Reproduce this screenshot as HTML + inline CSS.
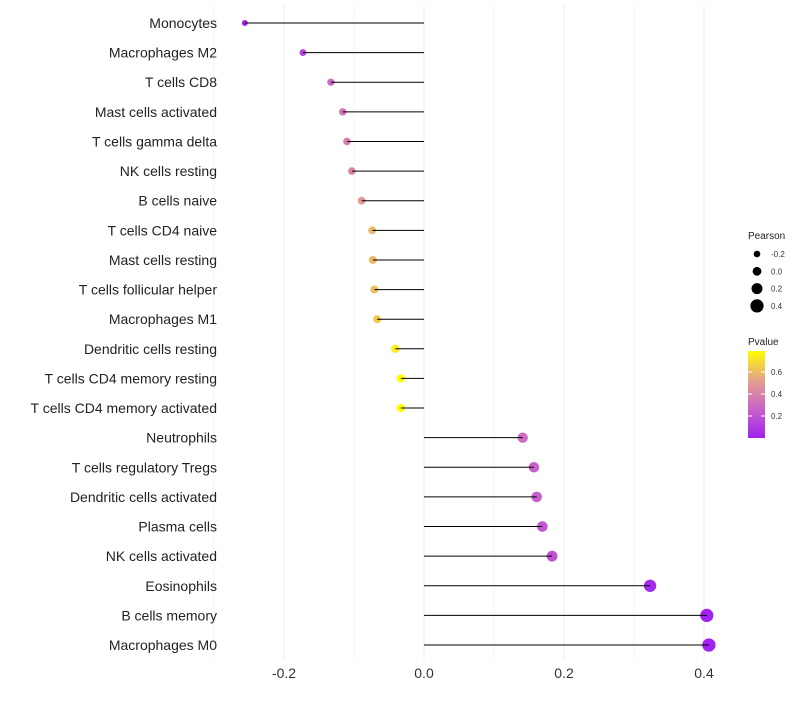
<!DOCTYPE html>
<html><head><meta charset="utf-8"><style>
body{margin:0;background:#fff;font-family:"Liberation Sans",sans-serif}
</style></head><body>
<svg id="c" width="800" height="700" xmlns="http://www.w3.org/2000/svg"></svg>
<script>
const categories=["Monocytes","Macrophages M2","T cells CD8","Mast cells activated","T cells gamma delta","NK cells resting","B cells naive","T cells CD4 naive","Mast cells resting","T cells follicular helper","Macrophages M1","Dendritic cells resting","T cells CD4 memory resting","T cells CD4 memory activated","Neutrophils","T cells regulatory  Tregs ","Dendritic cells activated","Plasma cells","NK cells activated","Eosinophils","B cells memory","Macrophages M0"];
const pearson=[-0.256,-0.173,-0.133,-0.116,-0.110,-0.103,-0.089,-0.074,-0.073,-0.071,-0.067,-0.041,-0.033,-0.033,0.141,0.157,0.161,0.169,0.183,0.323,0.404,0.407];
const pvalue=[0.02,0.15,0.3,0.35,0.38,0.42,0.5,0.6,0.6,0.62,0.65,0.75,0.8,0.8,0.3,0.26,0.25,0.22,0.2,0.04,0.01,0.01];
const xTicks=[-0.2,0,0.2,0.4];
const xTickLabels=["-0.2","0.0","0.2","0.4"];
const ns="http://www.w3.org/2000/svg",svg=document.getElementById('c');
const X=v=>424+v*700, Y=i=>23+i*(622/21);
const R=v=>3.3+(v+0.2)*5.5;
function col(p){const t=Math.max(0,Math.min(1,p/0.8));
 const stops=[[160,32,240],[200,100,200],[230,160,140],[255,255,0]];
 const s=t*3,i=Math.min(2,Math.floor(s)),f=s-i;
 const c=stops[i].map((a,k)=>Math.round(a+(stops[i+1][k]-a)*f));return `rgb(${c})`;}
function el(t,a,txt){const e=document.createElementNS(ns,t);for(const k in a)e.setAttribute(k,a[k]);if(txt!=null)e.textContent=txt;svg.appendChild(e);return e;}
[-0.3,-0.1,0.1,0.3].forEach(v=>{const g=el('line',{x1:X(v),x2:X(v),y1:5,y2:660,stroke:'#f2f2f2','stroke-width':0.8});

});
xTicks.forEach((v,i)=>{const g=el('line',{x1:X(v),x2:X(v),y1:5,y2:660,stroke:'#ededed','stroke-width':1});


const t=el('text',{x:X(v),y:678,'text-anchor':'middle','font-size':14,fill:'#333'},xTickLabels[i]);

});
categories.forEach((c,i)=>{const y=Y(i);
const t=el('text',{x:217,y:y+5,'text-anchor':'end','font-size':14,fill:'#222'},c);


const p=el('circle',{cx:X(pearson[i]),cy:y,r:R(pearson[i]),fill:col(pvalue[i])});


const l=el('line',{x1:X(0),x2:X(pearson[i]),y1:y,y2:y,stroke:'#000','stroke-width':1});

});
const lt=el('text',{x:748,y:239,'font-size':10,fill:'#222'},'Pearson');


[-0.2,0,0.2,0.4].forEach((v,i)=>{const y=254+i*17.3;
const c=el('circle',{cx:757,cy:y,r:R(v),fill:'#000'});


const t=el('text',{x:771,y:y+3,'font-size':8,fill:'#333'},xTickLabels[i]);

});
const pt=el('text',{x:748,y:345,'font-size':10,fill:'#222'},'Pvalue');


const defs=el('defs',{});const lg=document.createElementNS(ns,'linearGradient');lg.setAttribute('id','g');lg.setAttribute('x1',0);lg.setAttribute('y1',1);lg.setAttribute('x2',0);lg.setAttribute('y2',0);defs.appendChild(lg);
[0,0.33,0.66,1].forEach(o=>{const s=document.createElementNS(ns,'stop');s.setAttribute('offset',o);s.setAttribute('stop-color',col(o*0.8));lg.appendChild(s);});
const bar=el('rect',{x:748,y:351,width:17,height:87,fill:'url(#g)'});


[[0.6,372],[0.4,394],[0.2,416]].forEach(([v,y])=>{
const t=el('text',{x:771,y:y+3,'font-size':8,fill:'#333'},v.toFixed(1));


el('line',{x1:748,x2:752,y1:y,y2:y,stroke:'#fff'});el('line',{x1:761,x2:765,y1:y,y2:y,stroke:'#fff'});});
</script>
</body></html>
